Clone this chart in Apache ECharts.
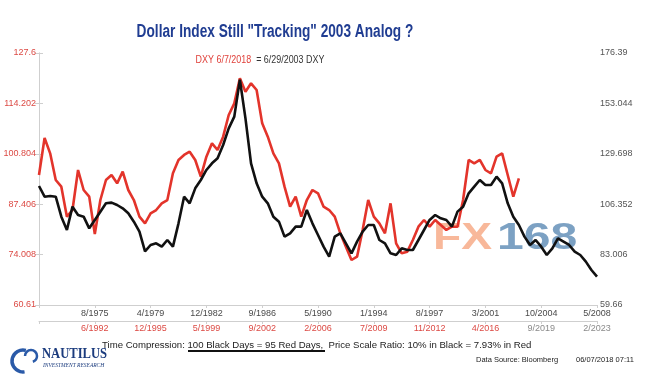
<!DOCTYPE html>
<html>
<head>
<meta charset="utf-8">
<script src="https://cdn.jsdelivr.net/npm/echarts@6/dist/echarts.min.js"></script>
<style>
  html, body { margin: 0; padding: 0; background: #fff; }
  #chart { width: 645px; height: 377px; }
</style>
</head>
<body>
<div id="chart"></div>
<script>
// tick labels
const blackTicks = ['', '8/1975', '4/1979', '12/1982', '9/1986', '5/1990', '1/1994', '8/1997', '3/2001', '10/2004', '5/2008']
const redTicks = ['', '6/1992', '12/1995', '5/1999', '9/2002', '2/2006', '7/2009', '11/2012', '4/2016', '9/2019', '2/2023']
const leftTicks = ['60.61', '74.008', '87.406', '100.804', '114.202', '127.6']
const rightTicks = ['59.66', '83.006', '106.352', '129.698', '153.044', '176.39']

// DXY from 6/1992 to 6/7/2018 (red, left scale), one value per step
const redDxy = [
  95.17, 105.0, 100.93, 93.84, 92.07, 84.09, 85.86, 96.50, 91.18, 89.41,
  79.5, 88.52, 93.84, 95.17, 92.95, 96.05, 91.18, 88.52, 84.09, 82.32,
  84.98, 85.86, 87.64, 88.52, 95.61, 99.16, 100.49, 101.37, 99.16, 94.73,
  100.04, 103.59, 101.81, 105.36, 111.12, 114.22, 120.9, 117.32, 119.54, 117.76,
  108.90, 105.36, 100.93, 98.27, 92.07, 86.75, 89.41, 84.09, 88.52, 91.18,
  90.30, 86.75, 85.86, 84.09, 79.66, 76.12, 72.57, 73.46, 80.55, 88.52,
  84.09, 82.32, 79.66, 87.64, 77.00, 74.35, 74.79, 77.89, 81.43, 83.21,
  81.43, 83.21, 81.88, 80.55, 81.43, 81.43, 88.52, 99.16, 98.27, 99.16,
  96.50, 95.61, 100.04, 100.93, 95.17, 89.41, 94.28
]

// DXY from 12/1971 to 5/2008 (black, right scale)
const blackDxy = [
  114.78, 109.84, 110.15, 109.84, 100.58, 94.40, 105.21, 101.35, 100.58, 95.18,
  99.04, 102.90, 106.76, 107.07, 105.98, 104.44, 102.12, 98.26, 93.63, 84.5,
  87.46, 88.23, 86.68, 89.77, 86.68, 97.49, 109.84, 106.76, 113.70, 117.56,
  122.20, 125.28, 127.60, 133.78, 141.50, 146.90, 164.0, 146.13, 125.28, 116.02,
  109.84, 106.76, 100.58, 98.26, 91.32, 92.86, 95.95, 95.95, 103.67, 97.49,
  92.09, 86.68, 82.05, 91.32, 92.86, 88.23, 83.60, 89.00, 93.63, 96.72,
  96.72, 89.77, 88.23, 83.60, 82.82, 85.91, 85.14, 85.14, 89.77, 94.40,
  99.04, 101.35, 99.81, 99.04, 95.95, 102.90, 105.21, 111.39, 114.48, 117.56,
  115.25, 115.25, 119.11, 116.02, 106.76, 100.58, 96.72, 91.32, 87.46, 89.77,
  86.68, 82.82, 85.91, 90.54, 89.00, 87.46, 84.37, 82.82, 79.74, 75.88,
  72.79
]

const axisFont = '"Liberation Sans", Arial, sans-serif'
const lineGrey = '#cfcfcf'

const chart = echarts.init(document.getElementById('chart'))

const option = {
  animation: false,
  grid: { left: 39, right: 48, top: 53, bottom: 72 },
  xAxis: [
    {
      type: 'value', min: 0, max: 100, interval: 10, position: 'bottom',
      axisLine: { lineStyle: { color: lineGrey } },
      axisTick: { show: true, length: 3, lineStyle: { color: lineGrey } },
      splitLine: { show: false },
      axisLabel: {
        margin: 4, fontSize: 9, fontFamily: axisFont, color: '#4a4a4a',
        showMinLabel: true, showMaxLabel: true,
        formatter: v => blackTicks[Math.round(v / 10)]
      }
    },
    {
      type: 'value', min: 0, max: 100, interval: 10, position: 'bottom', offset: 16,
      axisLine: { show: true, lineStyle: { color: lineGrey } },
      axisTick: { show: true, length: 3, lineStyle: { color: lineGrey } },
      splitLine: { show: false },
      axisLabel: {
        margin: 3, fontSize: 9, fontFamily: axisFont,
        showMinLabel: true, showMaxLabel: true,
        formatter: v => {
          const i = Math.round(v / 10)
          if (!redTicks[i]) return ''
          return (i >= 9 ? '{g|' : '{r|') + redTicks[i] + '}'
        },
        rich: {
          r: { color: '#dc4a44', fontSize: 9, fontFamily: axisFont },
          g: { color: '#8a8a8a', fontSize: 9, fontFamily: axisFont }
        }
      }
    }
  ],
  yAxis: [
    {
      type: 'value', position: 'left', min: 60.61, max: 127.6, interval: 13.398,
      axisLine: { show: true, lineStyle: { color: lineGrey } },
      axisTick: { show: true, length: 4, lineStyle: { color: lineGrey } },
      splitLine: { show: false },
      axisLabel: {
        margin: 3, fontSize: 9, fontFamily: axisFont, color: '#dc4a44',
        formatter: v => leftTicks[Math.round((v - 60.61) / 13.398)]
      }
    },
    {
      type: 'value', position: 'right', min: 59.66, max: 176.39, interval: 23.346,
      axisLine: { show: true, lineStyle: { color: lineGrey } },
      axisTick: { show: true, length: 4, lineStyle: { color: lineGrey } },
      splitLine: { show: false },
      axisLabel: {
        margin: 3, fontSize: 9, fontFamily: axisFont, color: '#555',
        formatter: v => rightTicks[Math.round((v - 59.66) / 23.346)]
      }
    }
  ],
  series: [
    {
      name: 'DXY 6/7/2018', type: 'line', xAxisIndex: 0, yAxisIndex: 0,
      showSymbol: false, z: 3,
      lineStyle: { color: '#e3342b', width: 2.6 },
      data: redDxy.map((v, i) => [i, v])
    },
    {
      name: '6/29/2003 DXY', type: 'line', xAxisIndex: 0, yAxisIndex: 1,
      showSymbol: false, z: 4,
      lineStyle: { color: '#111', width: 2.6 },
      data: blackDxy.map((v, i) => [i, v])
    }
  ],
  graphic: [
    // 标题
    {
      type: 'text', x: 275, y: 32, z: 10, scaleX: 0.76,
      style: {
        text: 'Dollar Index Still "Tracking" 2003 Analog ?',
        font: 'bold 18px "Liberation Sans", Arial, sans-serif',
        fill: '#203d92', align: 'center', verticalAlign: 'middle'
      }
    },
    {
      type: 'text', x: 260, y: 60, z: 10, scaleX: 0.85,
      style: {
        text: '{r|DXY 6/7/2018}{k|  = 6/29/2003 DXY}',
        align: 'center', verticalAlign: 'middle',
        rich: {
          r: { fill: '#e0403a', font: '10.5px "Liberation Sans", sans-serif' },
          k: { fill: '#333', font: '10.5px "Liberation Sans", sans-serif' }
        }
      }
    },
    // 水印 FX168
    {
      type: 'text', x: 433, y: 239, z: 1, scaleX: 1.25,
      style: {
        text: 'FX', font: 'bold 37px "Liberation Sans", sans-serif',
        fill: 'rgba(246,160,120,0.75)', verticalAlign: 'middle'
      }
    },
    {
      type: 'text', x: 497, y: 239, z: 1, scaleX: 1.3,
      style: {
        text: '168', font: 'bold 37px "Liberation Sans", sans-serif',
        fill: 'rgba(80,130,175,0.75)', verticalAlign: 'middle'
      }
    },
    // footer
    {
      type: 'text', x: 102, y: 345, z: 10,
      style: {
        text: 'Time Compression: 100 Black Days = 95 Red Days,  Price Scale Ratio: 10% in Black = 7.93% in Red',
        font: '9.6px "Liberation Sans", Arial, sans-serif', fill: '#222', verticalAlign: 'middle'
      }
    },
    {
      type: 'line', z: 10,
      shape: { x1: 188, y1: 351, x2: 325, y2: 351 },
      style: { stroke: '#111', lineWidth: 2 }
    },
    {
      type: 'text', x: 476, y: 360, z: 10,
      style: {
        text: 'Data Source: Bloomberg', font: '7.5px "Liberation Sans", Arial, sans-serif',
        fill: '#222', verticalAlign: 'middle'
      }
    },
    {
      type: 'text', x: 576, y: 360, z: 10,
      style: {
        text: '06/07/2018 07:11', font: '7.5px "Liberation Sans", Arial, sans-serif',
        fill: '#222', verticalAlign: 'middle'
      }
    },
    // logo
    {
      type: 'arc', z: 10,
      shape: { cx: 23, cy: 361, r: 11, startAngle: -Math.PI / 2.4, endAngle: Math.PI / 2.2, clockwise: false },
      style: { stroke: '#2a5aa8', lineWidth: 3.5, fill: null }
    },
    {
      type: 'arc', z: 10,
      shape: { cx: 31, cy: 356, r: 6, startAngle: -Math.PI, endAngle: Math.PI / 2.5, clockwise: true },
      style: { stroke: '#2a5aa8', lineWidth: 2.5, fill: null }
    },
    {
      type: 'text', x: 42, y: 354, z: 10, scaleX: 0.9,
      style: {
        text: 'NAUTILUS', font: 'bold 14px "Liberation Serif", serif',
        fill: '#1c3c7e', verticalAlign: 'middle'
      }
    },
    {
      type: 'text', x: 43, y: 366, z: 10,
      style: {
        text: 'INVESTMENT RESEARCH', font: 'italic 5.5px "Liberation Serif", serif',
        fill: '#1c3c7e', verticalAlign: 'middle'
      }
    }
  ]
}

chart.setOption(option)
window.addEventListener('resize', function () {
  chart.resize()
})
</script>
</body>
</html>
